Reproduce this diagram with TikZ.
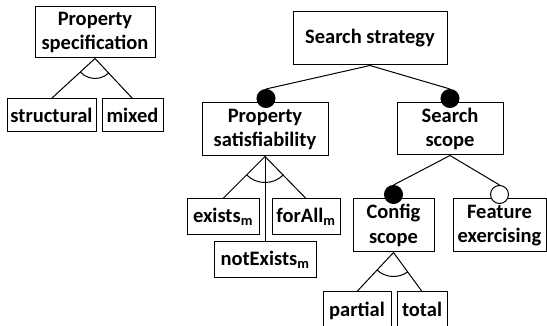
\documentclass[tikz,border=0pt]{standalone}
\usepackage{fontspec}
\setmainfont{Carlito}
\usetikzlibrary{calc}
\tikzset{
  box/.style={draw, line width=1pt, fill=white, inner sep=0pt, align=center,
    font=\fontsize{20.5}{24.5}\selectfont\bfseries},
  mand/.style={circle, draw, line width=1pt, fill=black, minimum size=18pt, inner sep=0pt},
  opt/.style={circle, draw, line width=1pt, fill=white, minimum size=18pt, inner sep=0pt},
  edge/.style={line width=1pt},
}
\newcommand{\altarc}[4]{%
  \draw[edge] let \p0=(#1), \p1=(#2), \p2=(#3),
    \n1={atan2(\y1-\y0,\x1-\x0)}, \n2={atan2(\y2-\y0,\x2-\x0)} in
    ($(\p0)+(\n1:#4)$) arc[start angle=\n1, end angle=\n2, radius=#4];}
\begin{document}
\begin{tikzpicture}[x=1pt,y=-1pt]
\useasboundingbox (0,0) rectangle (547,326);
\clip (0,0) rectangle (547,326);
% boxes
\node[box, minimum width=120pt, minimum height=51pt] (pspec) at (95,32.5) {Property\\specification};
\node[box, minimum width=89pt, minimum height=33pt] (struct) at (51.5,115.5) {structural};
\node[box, minimum width=61pt, minimum height=33pt] (mixed) at (132.5,115.5) {mixed};
\node[box, minimum width=154pt, minimum height=53pt] (strat) at (370,38.5) {Search strategy};
\node[box, minimum width=126pt, minimum height=53pt] (psat) at (265,129.5) {Property\\satisfiability};
\node[box, minimum width=106pt, minimum height=52pt] (sscope) at (450,129) {Search\\scope};
\node[box, minimum width=72pt, minimum height=36pt] (exists) at (223,217) {exists\textsubscript{m}};
\node[box, minimum width=68pt, minimum height=36pt] (forall) at (306,217) {forAll\textsubscript{m}};
\node[box, minimum width=102pt, minimum height=36pt] (notex) at (265,260) {notExists\textsubscript{m}};
\node[box, minimum width=81pt, minimum height=53pt] (cscope) at (393.5,225.5) {Config\\scope};
\node[box, minimum width=93pt, minimum height=53pt] (feat) at (499.5,225.5) {Feature\\exercising};
\node[box, minimum width=68pt, minimum height=40pt] (partial) at (357,312) {\raisebox{5pt}{partial}};
\node[box, minimum width=50pt, minimum height=40pt] (total) at (422,312) {\raisebox{5pt}{total}};
% circles (on top of the boxes)
\node[mand] (c1) at (266,98.5) {};
\node[mand] (c2) at (450,98.5) {};
\node[mand] (c3) at (393.5,194.5) {};
\node[opt]  (c4) at (499.5,194.5) {};
% connectors
\draw[edge] (pspec.south) -- (struct.north);
\draw[edge] (pspec.south) -- (mixed.north);
\altarc{pspec.south}{struct.north}{mixed.north}{20pt}
\draw[edge] (strat.south) -- (c1.north);
\draw[edge] (strat.south) -- (c2.north);
\draw[edge] (psat.south) -- (exists.north);
\draw[edge] (psat.south) -- (forall.north);
\draw[edge] (psat.south) -- (notex.north);
\altarc{psat.south}{exists.north}{forall.north}{26pt}
\draw[edge] (sscope.south) -- (c3.north);
\draw[edge] (sscope.south) -- (c4.north);
\draw[edge] (cscope.south) -- (partial.north);
\draw[edge] (cscope.south) -- (total.north);
\altarc{cscope.south}{partial.north}{total.north}{24pt}
\end{tikzpicture}
\end{document}
